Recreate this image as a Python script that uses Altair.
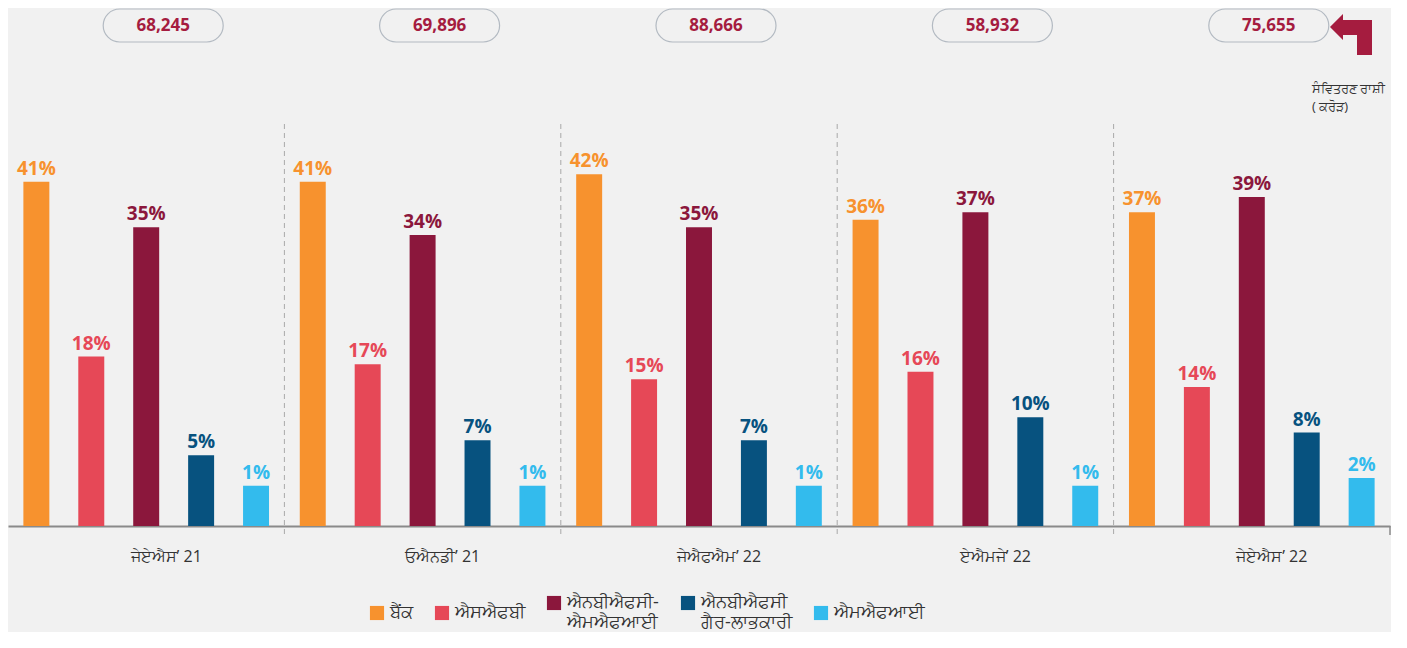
import altair as alt
import pandas as pd

periods = ["ਜੇਏਐਸ’ 21", "ਓਐਨਡੀ’ 21", "ਜੇਐਫਐਮ’ 22", "ਏਐਮਜੇ’ 22", "ਜੇਏਐਸ’ 22"]
disbursement = [68245, 69896, 88666, 58932, 75655]
categories = ["ਬੈਂਕ", "ਐਸਐਫਬੀ", "ਐਨਬੀਐਫਸੀ-|ਐਮਐਫਆਈ", "ਐਨਬੀਐਫਸੀ|ਗੈਰ-ਲਾਭਕਾਰੀ", "ਐਮਐਫਆਈ"]
bank = [41, 41, 42, 36, 37]
sfb = [18, 17, 15, 16, 14]
nbfc_mfi = [35, 34, 35, 37, 39]
nbfc_np = [5, 7, 7, 10, 8]
mfi = [1, 1, 1, 1, 2]
colors = ["#F7922E", "#E64857", "#8B173C", "#07527F", "#33BBED"]
unit_note = ["ਸੰਵਿਤਰਣ ਰਾਸ਼ੀ", "( ਕਰੋੜ)"]

series = [bank, sfb, nbfc_mfi, nbfc_np, mfi]
rows = []
for ci, cat in enumerate(categories):
    for pi, per in enumerate(periods):
        rows.append({"period": per, "cat": cat, "value": series[ci][pi]})
df = pd.DataFrame(rows)
df_tot = pd.DataFrame({"period": periods, "amt": disbursement})
df_sep = pd.DataFrame({"period": periods[1:]})
df_note = pd.DataFrame({"txt": ["\n".join(unit_note)]})

W, H = 1382, 516
YMIN, YMAX = -4.3, 63.6
FONT = "Open Sans"
BOX_SHIFT = W / len(periods) / 2 + 17

xscale = alt.Scale(domain=periods, paddingInner=0, paddingOuter=0)
yscale = alt.Scale(domain=[YMIN, YMAX], nice=False, zero=False)
cscale = alt.Scale(domain=categories, range=colors)
oscale = alt.Scale(domain=categories, paddingInner=0.527, paddingOuter=0.28)

axis = alt.Axis(title=None, ticks=False, domainColor="#8a8a8a", domainWidth=2,
                labelFont=FONT, labelFontSize=16, labelColor="#333333",
                labelPadding=22, labelOffset=20, labelAngle=0)
X = alt.X("period:N", scale=xscale, sort=periods, axis=axis)
Xs = alt.X("period:N", scale=xscale, sort=periods, bandPosition=0, axis=axis)

legend = alt.Legend(title=None, orient="none", legendX=360, legendY=584,
                    direction="horizontal", columns=5,
                    symbolType="square", symbolSize=200,
                    symbolStrokeWidth=0, symbolOpacity=1,
                    labelFont=FONT, labelFontSize=18, labelColor="#333333",
                    labelLimit=300, columnPadding=20,
                    labelExpr="split(datum.label, '|')")

seps = alt.Chart(df_sep).mark_rule(strokeDash=[5, 4], color="#a9a9a9", strokeWidth=1).encode(
    x=Xs, y=alt.value(114), y2=alt.value(525),
)

bars = alt.Chart(df).mark_bar().encode(
    x=X,
    xOffset=alt.XOffset("cat:N", scale=oscale, sort=categories),
    y=alt.Y("value:Q", scale=yscale, axis=None),
    y2=alt.datum(YMIN),
    color=alt.Color("cat:N", scale=cscale, sort=categories, legend=legend),
)

labels = alt.Chart(df).transform_calculate(lab="datum.value + '%'").mark_text(
    fontSize=19, fontWeight="bold", font=FONT, baseline="bottom", dy=-3).encode(
    x=X,
    xOffset=alt.XOffset("cat:N", scale=oscale, sort=categories),
    y=alt.Y("value:Q", scale=yscale, axis=None),
    text="lab:N",
    color=alt.Color("cat:N", scale=cscale, sort=categories, legend=None),
)

boxes = alt.Chart(df_tot).mark_bar(width=120, cornerRadius=17, fill="#f1f1f1",
                                   stroke="#b3bac2", strokeWidth=1.2).encode(
    x=X, xOffset=alt.value(BOX_SHIFT), y=alt.value(-1), y2=alt.value(32),
)
box_text = alt.Chart(df_tot).mark_text(fontSize=17, fontWeight="bold", font=FONT,
                                       color="#A51C3F").encode(
    x=X, xOffset=alt.value(BOX_SHIFT), y=alt.value(16),
    text=alt.Text("amt:Q", format=","),
)

arrow_path = ("M -1 -0.357 L -0.381 -0.976 L -0.381 -0.69 L 1 -0.69 L 1 0.976 "
              "L 0.286 0.976 L 0.286 0.024 L -0.381 0.024 L -0.381 0.262 Z")
arrow = alt.Chart(df_tot.head(1)).mark_point(shape=arrow_path, size=1764, filled=True,
                                             color="#A51C3F", opacity=1).encode(
    x=alt.value(1343), y=alt.value(24.5),
)

note = alt.Chart(df_note).mark_text(align="left", baseline="middle", fontSize=13, font=FONT,
                                    lineBreak="\n", lineHeight=18,
                                    color="#333333").encode(
    x=alt.value(1304), y=alt.value(79), text="txt:N",
)

end_tick = alt.Chart(df_tot.head(1)).mark_rule(color="#8a8a8a", strokeWidth=1.5).encode(
    x=alt.value(W), y=alt.value(H), y2=alt.value(525),
)

chart = alt.layer(seps, bars, labels, boxes, box_text, arrow, note, end_tick).properties(
    width=W, height=H, background="#f1f1f1", padding=0,
).configure_view(stroke=None)

chart.save("out.html", embed_options={"renderer": "svg", "actions": False})
